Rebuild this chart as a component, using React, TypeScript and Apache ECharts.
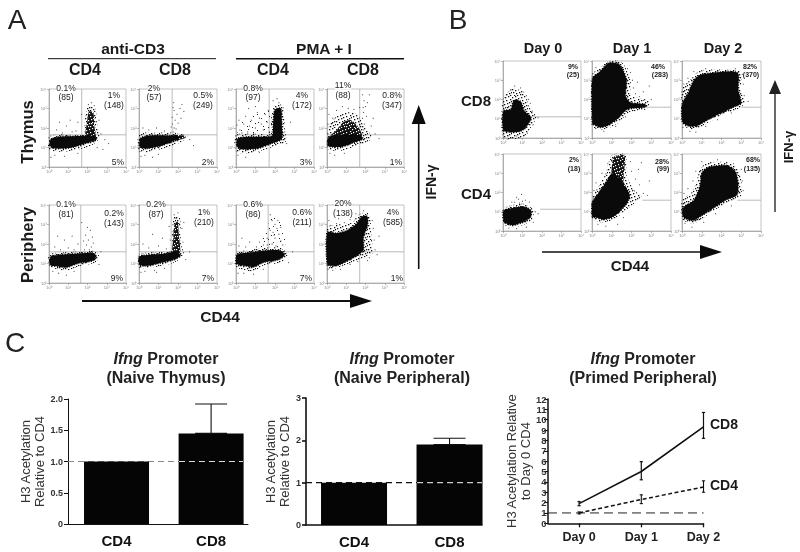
import React, { useEffect, useRef } from "react";
import * as echarts from "echarts";

type P = [number, number];
const FONT = '"Liberation Sans", Arial, sans-serif';

// ---------- Panel A clouds (decades of CD44, IFN-g) ----------
const tc4Core: P[] = [[0.03,1.15],[0.1,1.42],[0.6,1.56],[1.3,1.58],[1.9,1.6],[2.4,1.58],[2.45,1.4],[1.9,1.22],[1.2,1.0],[0.6,0.95],[0.15,0.98]];
const tc4Mid: P[] = [[1.9,1.58],[1.98,2.3],[2.08,2.85],[2.3,2.8],[2.35,2.1],[2.42,1.55]];
const tc4Halo: P[] = [[0,0.88],[0,1.55],[0.5,1.68],[1.8,1.68],[1.85,2.4],[2.0,3.05],[2.4,3.0],[2.5,2.2],[2.62,1.5],[2.2,1.1],[1.3,0.85],[0.5,0.78]];
const tc4Dots: P[] = [[0.4,1.9],[0.9,2.1],[1.2,1.8],[1.5,2.3],[0.7,1.75],[1.7,2.7],[2.2,3.3],[2.05,3.2],[2.6,2.4],[2.7,1.7],[2.9,1.4],[0.3,0.6],[0.8,0.55],[1.5,0.7],[2.5,1.0],[0.1,0.5],[1.1,2.4],[0.55,2.3],[1.4,1.85],[2.35,3.15],[3.1,1.2],[2.8,0.9]];

const tc8Core: P[] = [[0.02,1.2],[0.1,1.5],[0.6,1.62],[1.3,1.62],[1.9,1.6],[2.1,1.5],[1.7,1.3],[1.0,1.05],[0.4,0.95],[0.05,1.0]];
const tc8Mid: P[] = [[1.7,1.62],[2.3,1.62],[2.4,1.5],[1.9,1.38]];
const tc8Halo: P[] = [[0,0.82],[0,1.7],[1,1.76],[2,1.74],[2.5,1.58],[2,1.2],[1,0.88],[0.4,0.75]];
const tc8Dots: P[] = [[1.75,1.8],[1.8,2.0],[1.72,2.2],[1.85,2.4],[1.7,2.55],[1.95,2.7],[1.8,2.9],[2.1,3.0],[2.2,3.2],[1.78,3.3],[2.0,2.25],[1.9,1.95],[2.15,2.5],[1.75,3.05],[0.5,1.9],[0.9,2.0],[1.3,1.85],[0.2,2.0],[0.3,0.6],[1,0.65],[2.6,1.4],[2.8,1.1],[0.7,0.5],[2.3,2.85],[1.65,2.05],[0.1,0.55]];

const tp4Core: P[] = [[0.03,1.12],[0.08,1.45],[0.6,1.55],[1.3,1.55],[1.85,1.6],[1.9,2.2],[2.0,2.95],[2.3,3.0],[2.35,2.1],[2.35,1.45],[1.8,1.2],[1.2,0.98],[0.6,0.9],[0.15,0.95]];
const tp4Halo: P[] = [[0,0.8],[0,1.65],[1,1.7],[1.75,1.7],[1.8,2.5],[1.95,3.15],[2.4,3.15],[2.5,2],[2.55,1.3],[1.8,1],[0.8,0.72]];
const tp4Mist: P[] = [[0.1,1.6],[0.3,2.3],[1,2.75],[1.8,2.85],[1.85,1.6]];
const tp4Dots: P[] = [[0.2,1.9],[0.4,2.2],[0.6,1.8],[0.8,2.4],[1,2.0],[1.2,2.5],[1.4,1.9],[1.6,2.3],[0.5,2.6],[1.1,2.8],[1.5,2.7],[1.7,1.8],[0.3,1.75],[0.9,1.7],[1.3,2.2],[0.7,2.1],[0.15,2.4],[1.65,2.9],[1.9,3.4],[2.1,3.5],[2.2,3.3],[0.1,0.6],[0.5,0.5],[1.2,0.75],[2.5,1.8],[2.6,1.2],[2.8,2.3],[0.05,2.15],[1.0,3.1],[0.65,3.0]];

const tp8Core: P[] = [[0.02,1.15],[0.1,1.55],[0.6,1.63],[1.3,1.65],[1.75,1.62],[1.85,1.45],[1.3,1.22],[0.7,1.03],[0.1,1.05]];
const tp8Mid: P[] = [[0.2,1.6],[0.5,1.9],[0.85,2.3],[1.25,2.4],[1.65,2.0],[1.8,1.6]];
const tp8Halo: P[] = [[0,1.5],[0.15,2.2],[0.7,2.75],[1.5,2.75],[2.0,2.0],[2.3,1.6],[2.2,1.35],[1.6,1.1],[0.8,0.85],[0.05,0.9]];
const tp8Dots: P[] = [[1.9,1.9],[1.95,2.2],[1.85,2.5],[1.9,2.8],[2.0,3.1],[1.92,3.4],[1.85,3.7],[2.1,3.3],[1.88,3.05],[2.05,2.6],[0.3,2.5],[0.1,2.7],[0.5,2.9],[1.1,3.0],[1.4,2.95],[0.8,3.1],[2.3,2.1],[2.5,1.7],[2.7,1.45],[0.4,0.6],[0.9,0.7],[0.15,0.7],[2.4,2.5],[1.7,3.05],[2.2,3.7],[0.05,2.2]];

const pc4Core: P[] = [[0.02,1.05],[0.1,1.35],[0.6,1.45],[1.4,1.5],[2.2,1.55],[2.45,1.4],[2.3,1.15],[1.5,1.0],[0.9,0.8],[0.5,0.85],[0.1,0.9]];
const pc4Halo: P[] = [[0,0.9],[0,1.45],[0.6,1.56],[1.4,1.6],[2.3,1.65],[2.6,1.4],[2.4,1.05],[1.5,0.85],[0.9,0.62],[0.4,0.7]];
const pc4Dots: P[] = [[1.85,1.7],[1.95,1.95],[2.05,2.2],[1.9,2.45],[2.15,2.7],[2.25,2.35],[2.0,2.85],[1.8,2.15],[2.2,1.85],[2.1,1.7],[2.3,2.05],[0.6,1.7],[1.0,1.8],[0.3,1.85],[1.5,2.0],[1.3,1.7],[0.8,2.2],[1.2,2.4],[0.5,0.5],[0.9,0.4],[1.3,0.6],[0.2,0.6],[2.6,0.95],[2.7,1.6],[1.7,3.1],[0.45,2.4]];

const pc8Core: P[] = [[0.02,0.95],[0.02,1.35],[0.6,1.45],[1.3,1.5],[1.95,1.6],[2.12,1.4],[1.8,1.2],[1.0,1.0],[0.4,0.88]];
const pc8Mid: P[] = [[1.72,1.55],[1.75,2.2],[1.82,3.0],[1.98,3.15],[2.05,2.4],[2.1,1.55]];
const pc8Halo: P[] = [[0,0.8],[0,1.45],[1,1.6],[1.65,1.65],[1.7,2.6],[1.8,3.4],[2.1,3.35],[2.15,2],[2.3,1.45],[1.8,1.05],[0.8,0.82]];
const pc8Dots: P[] = [[1.8,3.5],[1.9,3.3],[2.0,3.6],[2.2,2.8],[1.6,2.2],[2.25,2.1],[0.5,1.8],[1,1.9],[1.4,1.75],[0.2,2.0],[1.2,2.3],[0.3,0.6],[0.8,0.65],[1.3,0.75],[2.4,1.2],[2.6,1.6],[0.7,2.5],[1.55,2.9],[2.3,3.1],[0.1,0.55],[0.9,0.55]];

const pp4Core: P[] = [[0.02,1.0],[0.05,1.45],[0.6,1.55],[1.4,1.65],[2.2,1.68],[2.5,1.45],[2.2,1.2],[1.4,1.05],[0.9,0.82],[0.45,0.88]];
const pp4Halo: P[] = [[0,0.85],[0,1.55],[0.6,1.68],[1.4,1.8],[2.3,1.8],[2.65,1.45],[2.3,1.05],[1.4,0.9],[0.9,0.6],[0.35,0.68]];
const pp4Mist: P[] = [[0.9,1.7],[1.3,2.2],[1.7,3.1],[1.9,3.55],[2.35,3.3],[2.5,2.4],[2.45,1.75]];
const pp4Dots: P[] = [[1.85,2.0],[2.0,2.3],[1.9,2.6],[2.1,2.8],[2.0,3.0],[1.85,3.2],[1.75,3.5],[2.2,2.5],[2.3,2.15],[1.6,2.3],[1.4,1.95],[1.2,2.1],[1.05,1.85],[1.75,2.7],[2.15,3.2],[2.3,2.85],[2.05,1.9],[0.7,2.1],[0.3,2.3],[0.5,1.85],[1.6,1.95],[2.4,1.95],[0.15,1.9],[0.4,0.5],[0.9,0.45],[1.4,0.7],[0.1,0.5],[2.7,1.05],[2.9,1.6],[1.95,2.45]];

const pp8Core: P[] = [[0.02,0.95],[0.02,2.6],[0.5,2.55],[1,2.68],[1.5,3.0],[1.8,3.4],[2.1,3.4],[2.1,2.9],[1.9,2.4],[1.9,1.7],[1.7,1.5],[1.2,1.2],[0.7,0.95],[0.3,0.88]];
const pp8Halo: P[] = [[0,0.8],[0,2.85],[0.6,3],[1.3,3.1],[1.7,3.55],[2.2,3.55],[2.3,2.5],[2.35,1.5],[1.9,1.3],[1,0.95],[0.4,0.75]];
const pp8Dots: P[] = [[0.2,2.95],[0.5,3.05],[0.9,3.1],[1.2,3.25],[1.5,3.3],[2.35,3.2],[2.4,2.8],[2.45,2.2],[2.5,1.7],[2.6,1.45],[2.2,1.3],[0.3,0.65],[0.7,0.7],[1.2,0.95],[1.6,1.1],[0.1,3.2],[0.6,3.3],[1.5,3.55],[1.9,3.7],[2.7,2.4],[2.1,1.15],[0.05,0.7]];

// ---------- Panel B clouds ----------
const d0c8Core: P[] = [[0.02,0.4],[0.02,1.4],[0.4,1.5],[0.55,1.95],[0.9,1.9],[1.1,1.4],[1.45,1.05],[1.2,0.6],[0.9,0.35],[0.4,0.3]];
const d0c8Halo: P[] = [[0,0.02],[0,2],[0.45,2.55],[1.05,2.4],[1.35,1.6],[1.7,1.1],[1.4,0.5],[1,0.02]];
const d0c8Dots: P[] = [[0.2,2.25],[0.6,2.7],[0.9,2.6],[1.2,2.2],[1.4,1.8],[0.1,2.1],[1.5,1.4],[1.8,1.05],[1.55,0.7],[1.25,0.25],[0.7,0.1],[0.25,0.12],[1.1,0.15],[0.4,2.5],[1.3,2.0]];
const d1c8Core: P[] = [[0.02,0.7],[0.02,3.1],[0.35,3.4],[0.85,3.9],[1.4,3.8],[1.75,3.0],[1.7,2.2],[1.95,1.85],[2.7,1.75],[2.7,1.6],[1.8,1.5],[1.3,1.0],[0.8,0.65],[0.4,0.55],[0.1,0.7]];
const d1c8Halo: P[] = [[0,0.6],[0,3.3],[0.35,3.6],[0.8,3.98],[1.5,3.95],[1.95,3.0],[1.95,2.2],[2.3,2.1],[2.9,1.9],[2.75,1.5],[1.9,1.35],[1.4,0.85],[0.8,0.5],[0.35,0.45]];
const d1c8Dots: P[] = [[2.1,2.6],[2.2,2.3],[2.4,2.15],[2.6,2.4],[2.05,3.0],[1.95,3.4],[2.9,2.7],[2.6,1.95],[3.0,2.0],[1.7,1.1],[1.2,0.6],[0.6,0.35],[2.3,2.9],[1.8,3.6],[0.2,3.65]];
const d2c8Core: P[] = [[0.02,0.85],[0.02,1.8],[0.3,2.3],[0.6,3.0],[1.0,3.3],[2.8,3.4],[2.85,2.5],[3.0,1.8],[2.7,1.65],[2.0,1.3],[1.4,1.0],[0.8,0.65],[0.4,0.6]];
const d2c8Halo: P[] = [[0,0.75],[0,2.55],[0.4,3.0],[0.9,3.5],[2.2,3.55],[2.95,3.45],[3.0,2.5],[3.2,1.85],[2.8,1.5],[2.0,1.15],[1.4,0.85],[0.8,0.5],[0.35,0.48]];
const d2c8Dots: P[] = [[0.1,2.8],[0.3,3.1],[0.6,3.45],[1.2,3.6],[2.7,3.6],[3.1,2.8],[3.15,2.2],[3.35,1.9],[2.5,1.3],[1.8,0.95],[1.2,0.6],[0.7,0.3],[0.4,0.35],[0.05,0.55],[3.05,3.3]];
const d0c4Core: P[] = [[0.03,0.55],[0.03,1.05],[0.5,1.2],[1.1,1.25],[1.45,1.05],[1.4,0.7],[1,0.45],[0.5,0.3],[0.15,0.4]];
const d0c4Halo: P[] = [[0,0.45],[0,1.15],[0.5,1.35],[1.1,1.4],[1.55,1.1],[1.5,0.6],[1,0.3],[0.45,0.2],[0.1,0.3]];
const d0c4Dots: P[] = [[0.6,1.5],[0.8,1.65],[0.95,1.9],[0.7,1.75],[1.0,1.55],[1.15,1.6],[0.45,1.5],[0.85,1.45],[1.65,1.0],[1.8,0.9],[1.55,0.45],[0.7,0.12],[0.3,0.15],[1.2,0.2],[1.35,1.5]];
const d1c4Core: P[] = [[0.02,0.75],[0.02,1.5],[0.35,2.0],[0.75,2.6],[1.05,3.0],[1.45,2.6],[1.9,1.9],[1.8,1.5],[1.4,1.0],[1.0,0.7],[0.6,0.6],[0.2,0.7]];
const d1c4Mid: P[] = [[1.0,2.6],[1.1,3.85],[1.65,3.9],[1.6,2.6],[1.9,1.8],[1.3,1.8]];
const d1c4Halo: P[] = [[0,0.65],[0,1.7],[0.35,2.35],[0.7,3.0],[1,3.95],[1.7,3.95],[1.75,2.9],[2.15,2.1],[2.5,1.8],[2.2,1.5],[1.5,0.9],[1,0.55],[0.5,0.45]];
const d1c4Dots: P[] = [[0.2,2.5],[0.5,3.0],[0.8,3.5],[2.0,3.1],[2.2,2.7],[2.4,2.4],[2.6,1.95],[2.8,1.85],[1.95,3.6],[2.35,3.2],[2.9,2.6],[1.6,0.7],[0.3,0.35],[0.7,0.25],[1.3,0.35],[2.5,3.55],[0.1,2.1]];
const d2c4Core: P[] = [[0.05,0.75],[0.05,1.2],[0.6,1.6],[0.9,2.3],[1.0,3.0],[1.3,3.3],[2.3,3.4],[2.75,3.0],[2.8,1.9],[2.2,1.6],[1.6,1.2],[1.0,0.8],[0.6,0.55],[0.3,0.6]];
const d2c4Halo: P[] = [[0,0.65],[0,1.65],[0.45,1.95],[0.75,2.6],[0.9,3.2],[1.3,3.55],[2.4,3.55],[2.9,3.1],[3.0,1.85],[2.3,1.45],[1.6,1.05],[1.0,0.62],[0.6,0.4],[0.25,0.45]];
const d2c4Dots: P[] = [[0.1,1.95],[0.3,2.2],[0.55,2.6],[0.7,3.1],[1.0,3.6],[1.8,3.7],[2.6,3.5],[3.05,2.6],[3.1,2.1],[2.5,1.3],[1.7,0.9],[1.1,0.45],[0.5,0.2],[0.15,0.4],[3.0,3.2]];

// ---------- Panel C values ----------
const barCategories = ["CD4", "CD8"];
const thymusValues = [1, 1.45];
const thymusErrHigh = [1, 1.92];
const peripheralValues = [1, 1.9];
const peripheralErrHigh = [1, 2.05];
const days = ["Day 0", "Day 1", "Day 2"];
const primedCd8 = [1.9, 5.0, 9.3];
const primedCd8Low = [1.7, 4.2, 8.2];
const primedCd8High = [2.1, 5.95, 10.7];
const primedCd4 = [1.0, 2.3, 3.5];
const primedCd4Low = [0.9, 1.9, 3.0];
const primedCd4High = [1.1, 2.75, 4.1];

const decadeLabels = ["10⁰", "10¹", "10²", "10³", "10⁴"];

// stipple textures for the sparse parts of the clouds
const stippleDense: P[] = [[0,1],[3,0],[6,2],[9,1],[12,0],[14,3],[1,4],[4,3],[7,5],[10,4],[13,6],[15,5],[2,7],[5,6],[8,8],[11,7],[14,9],[0,9],[3,10],[6,9],[9,11],[12,10],[15,12],[1,12],[4,13],[7,12],[10,14],[13,13],[2,15],[5,15],[8,14],[11,11],[14,15]];
const stippleSparse: P[] = [[1,2],[8,1],[13,4],[5,6],[10,9],[2,10],[15,11],[7,14],[12,15]];

const tile = (body: string) => ({
  image: "data:image/svg+xml," + encodeURIComponent(`<svg xmlns="http://www.w3.org/2000/svg" width="16" height="16">${body}</svg>`),
  repeat: "repeat", imageWidth: 16, imageHeight: 16,
});
const rects = (pts: P[], s: number, c: string) => pts.map(([x, y]) => `<rect x="${x}" y="${y}" width="${s}" height="${s}" fill="${c}"/>`).join("");

const BLACK = "#0a0a0a";
const HALO: any = tile(rects(stippleDense, 1.3, "#111"));
const MID: any = tile(`<rect width="16" height="16" fill="#111"/>` + rects(stippleDense, 1.2, "#fff"));
const MIST: any = tile(rects(stippleSparse, 1, "#222"));

type Flow = { r: number[]; gate: number[]; layers: [P[], any][]; dots: P[] };
const ax = [[49, 77], [139, 78], [236, 78], [327, 77]];
const rowA = [[89, 78], [205, 78]];
const bx = [[503, 78], [592, 79], [682, 79]];
const rowB = [[61, 77], [154, 77]];
const flowPlots: Flow[] = [
  { r: [...ax[0], ...rowA[0]], gate: [1.7, 1.65], layers: [[tc4Halo, HALO], [tc4Mid, MID], [tc4Core, BLACK]], dots: tc4Dots },
  { r: [...ax[1], ...rowA[0]], gate: [1.7, 1.65], layers: [[tc8Halo, HALO], [tc8Mid, MID], [tc8Core, BLACK]], dots: tc8Dots },
  { r: [...ax[2], ...rowA[0]], gate: [1.7, 1.65], layers: [[tp4Mist, MIST], [tp4Halo, HALO], [tp4Core, BLACK]], dots: tp4Dots },
  { r: [...ax[3], ...rowA[0]], gate: [1.7, 1.65], layers: [[tp8Halo, HALO], [tp8Mid, MID], [tp8Core, BLACK]], dots: tp8Dots },
  { r: [...ax[0], ...rowA[1]], gate: [1.65, 1.6], layers: [[pc4Halo, HALO], [pc4Core, BLACK]], dots: pc4Dots },
  { r: [...ax[1], ...rowA[1]], gate: [1.65, 1.6], layers: [[pc8Halo, HALO], [pc8Mid, MID], [pc8Core, BLACK]], dots: pc8Dots },
  { r: [...ax[2], ...rowA[1]], gate: [1.65, 1.6], layers: [[pp4Mist, MIST], [pp4Halo, HALO], [pp4Core, BLACK]], dots: pp4Dots },
  { r: [...ax[3], ...rowA[1]], gate: [1.7, 1.6], layers: [[pp8Halo, HALO], [pp8Core, BLACK]], dots: pp8Dots },
  { r: [...bx[0], ...rowB[0]], gate: [-1, 1.1, 1.55], layers: [[d0c8Halo, HALO], [d0c8Core, BLACK]], dots: d0c8Dots },
  { r: [...bx[1], ...rowB[0]], gate: [-1, 1.6, 2.7], layers: [[d1c8Halo, HALO], [d1c8Core, BLACK]], dots: d1c8Dots },
  { r: [...bx[2], ...rowB[0]], gate: [-1, 1.6, 3.0], layers: [[d2c8Halo, HALO], [d2c8Core, BLACK]], dots: d2c8Dots },
  { r: [...bx[0], ...rowB[1]], gate: [-1, 1.13, 1.9], layers: [[d0c4Halo, HALO], [d0c4Core, BLACK]], dots: d0c4Dots },
  { r: [...bx[1], ...rowB[1]], gate: [-1, 1.6, 2.55], layers: [[d1c4Halo, HALO], [d1c4Mid, MID], [d1c4Core, BLACK]], dots: d1c4Dots },
  { r: [...bx[2], ...rowB[1]], gate: [-1, 1.6, 2.8], layers: [[d2c4Halo, HALO], [d2c4Core, BLACK]], dots: d2c4Dots },
];

// text, centre x, centre y
const panelALabels: [string, number, number][] = [
  ["0.1%",66,88],["(85)",66,97],["1%",114,95],["(148)",114,105],["5%",118,162],
  ["2%",154,88],["(57)",154,97],["0.5%",203,95],["(249)",203,105],["2%",208,162],
  ["0.8%",253,88],["(97)",253,97],["4%",302,94.5],["(172)",302,104.5],["3%",306,162],
  ["11%",343,85],["(88)",343,95],["0.8%",392,94.5],["(347)",392,104.5],["1%",396,162],
  ["0.1%",66,204],["(81)",66,213.5],["0.2%",114,213],["(143)",114,222.5],["9%",117,278],
  ["0.2%",156,204],["(87)",156,213.5],["1%",204,212],["(210)",204,221.5],["7%",208,278],
  ["0.6%",253,204],["(86)",253,213.5],["0.6%",302,212],["(211)",302,221.5],["7%",306,278],
  ["20%",343,203],["(138)",343,212.5],["4%",393,212],["(585)",393,221.5],["1%",397,278],
];
const panelBLabels: [string, number, number][] = [
  ["9%",573,66],["(25)",573,74],["46%",658,66],["(283)",660,74],["82%",750,66],["(370)",751,74],
  ["2%",574,159],["(18)",574,168],["28%",662,161],["(99)",663,168],["68%",753,159],["(135)",752,168],
];
// text, x, y, size, rotated
const headings: [string, number, number, number, boolean][] = [
  ["anti-CD3",133,48,15.5,false],["PMA + I",324,48,15.5,false],
  ["CD4",85,69,16,false],["CD8",175,69,16,false],["CD4",273,69,16,false],["CD8",363,69,16,false],
  ["Thymus",27,132,16.5,true],["Periphery",27,245,16.5,true],
  ["IFN-γ",431,182,14,true],["CD44",220,316,15.5,false],
  ["Day 0",543,48,14.5,false],["Day 1",632,48,14.5,false],["Day 2",723,48,14.5,false],
  ["CD8",476,100,15,false],["CD4",476,193,15,false],
  ["IFN-γ",788,147,13,true],["CD44",630,265,15,false],
  ["CD8",724,424,14,false],["CD4",724,485,14,false],
];
const panelLetters: [string, number, number][] = [["A",17,19],["B",458,19],["C",15,342]];
const titles: [string, string, number][] = [
  ["(Naive Thymus)", "Promoter", 166],["(Naive Peripheral)", "Promoter", 402],["(Primed Peripheral)", "Promoter", 643],
];

const polyItem = (pts: P[], fill: any) => (_: any, api: any) => ({
  type: "polygon",
  shape: { points: pts.map((p) => api.coord(p)), smooth: 0.25 },
  style: fill === BLACK ? { fill, stroke: BLACK, lineWidth: 1.6, lineDash: [1, 1.5] } : { fill },
});

const whisker = (color: string, cap: number, width: number) => (_: any, api: any) => {
  const x = api.value(0);
  const lo = api.coord([x, api.value(1)]);
  const hi = api.coord([x, api.value(2)]);
  const st = { stroke: color, lineWidth: width, fill: "none" };
  return {
    type: "group",
    children: [
      { type: "line", shape: { x1: lo[0], y1: lo[1], x2: hi[0], y2: hi[1] }, style: st },
      { type: "line", shape: { x1: lo[0] - cap, y1: lo[1], x2: lo[0] + cap, y2: lo[1] }, style: st },
      { type: "line", shape: { x1: hi[0] - cap, y1: hi[1], x2: hi[0] + cap, y2: hi[1] }, style: st },
    ],
  };
};

function buildOption() {
  const grid: any[] = [], xAxis: any[] = [], yAxis: any[] = [], series: any[] = [], graphic: any[] = [];

  flowPlots.forEach((f, i) => {
    const [left, width, top, height] = f.r;
    grid.push({ left, top, width, height, show: true, borderColor: "#b4b4b4", borderWidth: 0.8, backgroundColor: "#fff" });
    const common = {
      type: "value", min: 0, max: 4, interval: 1, gridIndex: i, splitLine: { show: false },
      axisLine: { show: true, lineStyle: { color: "#a0a0a0", width: 0.8 } },
      axisTick: { length: 2, lineStyle: { color: "#888", width: 0.6 } },
      axisLabel: { fontSize: 4, color: "#888", margin: 2.5, fontFamily: FONT, formatter: (v: number) => decadeLabels[v] },
    };
    xAxis.push({ ...common });
    yAxis.push({ ...common });
    const base = { xAxisIndex: i, yAxisIndex: i, silent: true };
    const gateStyle = { color: "#aaa", width: 0.8 };
    if (f.gate[0] >= 0) {
      series.push({ ...base, type: "line", symbol: "none", z: 1, lineStyle: gateStyle, data: [[f.gate[0], 0], [f.gate[0], 4]] });
    }
    series.push({ ...base, type: "line", symbol: "none", z: 1, lineStyle: gateStyle, data: [[f.gate[2] ?? 0, f.gate[1]], [4, f.gate[1]]] });
    f.layers.forEach(([pts, fill], k) => {
      series.push({ ...base, type: "custom", z: 2 + k, data: [[0, 0]], renderItem: polyItem(pts, fill) });
    });
    series.push({ ...base, type: "scatter", z: 6, symbolSize: 1.1, itemStyle: { color: "#222" }, data: f.dots });
  });

  const n = flowPlots.length;
  const axisBlack = (w: number) => ({ show: true, onZero: false, lineStyle: { color: "#111", width: w } });
  const tickFont = { color: "#333", fontWeight: "bold", fontFamily: FONT };

  // bar panels
  const barPanels = [
    { left: 68, w: 180, top: 399, h: 125, min: -0.513, max: 1.39, yMax: 2, yInt: 0.5, vals: thymusValues, hi: thymusErrHigh, fmt: (v: number) => (v === 0 ? "0" : v.toFixed(1)), barW: 65, lw: 1, dashOut: "#888", dashIn: "#ddd", name: "H3 Acetylation\nRelative to CD4", nameGap: 21 },
    { left: 306, w: 176, top: 398, h: 127, min: -0.503, max: 1.34, yMax: 3, yInt: 1, vals: peripheralValues, hi: peripheralErrHigh, fmt: (v: number) => String(v), barW: 66, lw: 1.6, dashOut: "#111", dashIn: "#ccc", name: "H3 Acetylation\nRelative to CD4", nameGap: 15 },
  ];
  barPanels.forEach((b, j) => {
    const idx = n + j;
    grid.push({ left: b.left, top: b.top, width: b.w, height: b.h });
    xAxis.push({
      type: "value", gridIndex: idx, min: b.min, max: b.max, splitLine: { show: false },
      axisLine: axisBlack(b.lw), axisTick: { show: false },
      axisLabel: { customValues: [0, 1], formatter: (v: number) => barCategories[v], fontSize: 15, fontWeight: "bold", color: "#111", fontFamily: FONT, margin: 9 },
    });
    yAxis.push({
      type: "value", gridIndex: idx, min: 0, max: b.yMax, interval: b.yInt, splitLine: { show: false },
      axisLine: axisBlack(b.lw), axisTick: { length: 4, lineStyle: { color: "#111", width: b.lw } },
      axisLabel: { ...tickFont, fontSize: 9, margin: 5, formatter: b.fmt },
      name: b.name, nameLocation: "middle", nameGap: b.nameGap, nameRotate: 90,
      nameTextStyle: { fontSize: 13, color: "#333", fontFamily: FONT, lineHeight: 14 },
    });
    const base = { xAxisIndex: idx, yAxisIndex: idx, silent: true };
    series.push({ ...base, type: "line", symbol: "none", z: 1, lineStyle: { color: b.dashOut, width: 1.2, type: [6, 4] }, data: [[b.min, 1], [b.max, 1]] });
    series.push({ ...base, type: "bar", z: 2, barWidth: b.barW, itemStyle: { color: "#050505" }, data: b.vals.map((v, k) => [k, v]) });
    series.push({ ...base, type: "custom", z: 3, data: [[1, b.vals[1], b.hi[1]]], renderItem: whisker("#111", 16, 1.1) });
    series.push({ ...base, type: "line", symbol: "none", z: 4, lineStyle: { color: b.dashIn, width: 1.2, type: [6, 4] }, data: [[0.66, 1], [1.34, 1]] });
  });

  // line panel
  const li = n + 2;
  grid.push({ left: 548, top: 399, width: 155.5, height: 124.3 });
  xAxis.push({
    type: "value", gridIndex: li, min: -0.5, max: 2, splitLine: { show: false },
    axisLine: axisBlack(1.5),
    axisTick: { customValues: [0, 1, 2], length: 4, lineStyle: { color: "#111", width: 1.3 } },
    axisLabel: { customValues: [0, 1, 2], formatter: (v: number) => days[v], fontSize: 12.5, fontWeight: "bold", color: "#222", fontFamily: FONT, margin: 7 },
  });
  yAxis.push({
    type: "value", gridIndex: li, min: 0, max: 12, interval: 1, splitLine: { show: false },
    axisLine: axisBlack(1.5), axisTick: { length: 4, lineStyle: { color: "#111", width: 1.1 } },
    axisLabel: { ...tickFont, fontSize: 9.5, margin: 1.5 },
    name: "H3 Acetylation Relative\nto Day 0 CD4", nameLocation: "middle", nameGap: 16, nameRotate: 90,
    nameTextStyle: { fontSize: 13, color: "#333", fontFamily: FONT, lineHeight: 14 },
  });
  const lb = { xAxisIndex: li, yAxisIndex: li, silent: true };
  series.push({ ...lb, type: "line", symbol: "none", lineStyle: { color: "#222", width: 1, type: [9, 5] }, data: [[-0.5, 1], [2, 1]] });
  series.push({ ...lb, type: "line", symbol: "none", lineStyle: { color: "#111", width: 1.6 }, data: primedCd8.map((v, k) => [k, v]) });
  series.push({ ...lb, type: "line", symbol: "none", lineStyle: { color: "#111", width: 1.5, type: [4, 2.5] }, data: primedCd4.map((v, k) => [k, v]) });
  series.push({ ...lb, type: "custom", data: primedCd8.map((_, k) => [k, primedCd8Low[k], primedCd8High[k]]), renderItem: whisker("#111", 1.6, 1.2) });
  series.push({ ...lb, type: "custom", data: primedCd4.map((_, k) => [k, primedCd4Low[k], primedCd4High[k]]), renderItem: whisker("#111", 1.6, 1.1) });

  // annotations
  const txt = (text: string, x: number, y: number, size: number, weight: string, fill: string, rot = false, extra: any = {}) => ({
    type: "text", x, y, rotation: rot ? Math.PI / 2 : 0, silent: true, z: 20,
    style: { text, fontSize: size, fontWeight: weight, fontFamily: FONT, fill, align: "center", verticalAlign: "middle", ...extra },
  });
  panelALabels.forEach(([t, x, y], i) => {
    const topLeft = i % 5 === 0;
    graphic.push(txt(t, x, y, 8.5, "normal", "#222", false, topLeft ? { backgroundColor: "#fff" } : {}));
  });
  panelBLabels.forEach(([t, x, y]) => graphic.push(txt(t, x, y, 7, "bold", "#222")));
  headings.forEach(([t, x, y, s, r]) => graphic.push(txt(t, x, y, s, "bold", "#1a1a1a", r)));
  panelLetters.forEach(([t, x, y]) => graphic.push(txt(t, x, y, 28, "normal", "#222")));
  titles.forEach(([t2, p, x]) => {
    graphic.push({
      type: "text", x, y: 358, silent: true, z: 20,
      style: {
        text: `{i|Ifng} {b|${p}}`, align: "center", verticalAlign: "middle", fontFamily: FONT, fontSize: 16, fontWeight: "bold", fill: "#222",
        rich: {
          i: { fontStyle: "italic", fontWeight: "bold", fontSize: 16, fontFamily: FONT, fill: "#222" },
          b: { fontWeight: "bold", fontSize: 16, fontFamily: FONT, fill: "#222" },
        },
      },
    });
    graphic.push(txt(t2, x, 377, 16, "bold", "#222"));
  });

  const hline = (x1: number, x2: number, y: number, w: number, c = "#111") => ({ type: "line", silent: true, z: 15, shape: { x1, y1: y, x2, y2: y }, style: { stroke: c, lineWidth: w } });
  const vline = (x: number, y1: number, y2: number, w: number, c = "#111") => ({ type: "line", silent: true, z: 15, shape: { x1: x, y1, x2: x, y2 }, style: { stroke: c, lineWidth: w } });
  const tri = (points: number[][], c = "#0a0a0a") => ({ type: "polygon", silent: true, z: 15, shape: { points }, style: { fill: c } });
  graphic.push(hline(48, 216, 58.7, 1));
  graphic.push(hline(236, 404, 58.7, 1.6));
  graphic.push(vline(418.7, 122, 269, 1.6), tri([[418.7, 105], [411.7, 124], [425.7, 124]]));
  graphic.push(hline(82, 352, 301, 1.8), tri([[372, 301], [350, 294], [350, 308]]));
  graphic.push(vline(775, 92, 212, 1.6, "#444"), tri([[775, 80], [769, 94], [781, 94]], "#222"));
  graphic.push(hline(542, 702, 252, 1.6), tri([[722, 252], [700, 245], [700, 259]]));

  return { animation: false, backgroundColor: "#fff", grid, xAxis, yAxis, series, graphic: { elements: graphic } };
}

export default function App() {
  const ref = useRef<HTMLDivElement>(null);
  useEffect(() => {
    document.body.style.margin = "0";
    const chart = echarts.init(ref.current!, null, { renderer: "svg" });
    chart.setOption(buildOption() as any);
    return () => chart.dispose();
  }, []);
  return <div ref={ref} style={{ width: 800, height: 552, filter: "blur(0.35px)" }} />;
}
